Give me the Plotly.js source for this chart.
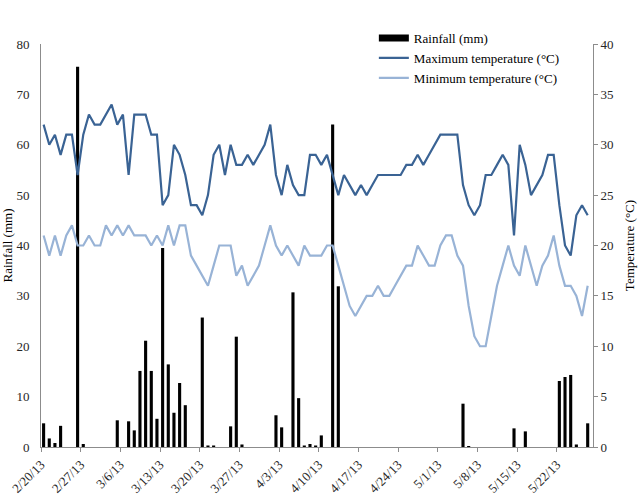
<!DOCTYPE html>
<html>
<head>
<meta charset="utf-8">
<script src="https://cdn.plot.ly/plotly-3.0.1.min.js"></script>
<style>html,body{margin:0;padding:0;background:#fff;}#chart{width:642px;height:499px;}</style>
</head>
<body>
<div id="chart"></div>
<script>
// Daily observations starting 2/20/13 (one value per day)
const startDate = [2013, 2, 20];
const rainfall = [
  4.7, 1.7, 0.8, 4.2, 0, 0, 75.5, 0.6, 0, 0,
  0, 0, 0, 5.3, 0, 5.1, 3.3, 15.1, 21.1, 15.1,
  5.6, 39.5, 16.4, 6.8, 12.7, 8.3, 0, 0, 25.7, 0.3,
  0.3, 0, 0, 4.1, 21.9, 0.5, 0, 0, 0, 0,
  0, 6.3, 3.9, 0, 30.7, 9.7, 0.3, 0.6, 0.3, 2.3,
  0, 64, 31.9, 0, 0, 0, 0, 0, 0, 0,
  0, 0, 0, 0, 0, 0, 0, 0, 0, 0,
  0, 0, 0, 0, 8.6, 0.2, 0, 0, 0, 0,
  0, 0, 0, 3.7, 0, 3.1, 0, 0, 0, 0,
  0, 13.1, 13.9, 14.3, 0.5, 0, 4.7
];
const maxTemp = [
  32, 30, 31, 29, 31, 31, 27, 31, 33, 32,
  32, 33, 34, 32, 33, 27, 33, 33, 33, 31,
  31, 24, 25, 30, 29, 27, 24, 24, 23, 25,
  29, 30, 27, 30, 28, 28, 29, 28, 29, 30,
  32, 27, 25, 28, 26, 25, 25, 29, 29, 28,
  29, 27, 25, 27, 26, 25, 26, 25, 26, 27,
  27, 27, 27, 27, 28, 28, 29, 28, 29, 30,
  31, 31, 31, 31, 26, 24, 23, 24, 27, 27,
  28, 29, 28, 21, 30, 28, 25, 26, 27, 29,
  29, 24, 20, 19, 23, 24, 23
];
const minTemp = [
  21, 19, 21, 19, 21, 22, 20, 20, 21, 20,
  20, 22, 21, 22, 21, 22, 21, 21, 21, 20,
  21, 20, 22, 20, 22, 22, 19, 18, 17, 16,
  18, 20, 20, 20, 17, 18, 16, 17, 18, 20,
  22, 20, 19, 20, 19, 18, 20, 19, 19, 19,
  20, 20, 18, 16, 14, 13, 14, 15, 15, 16,
  15, 15, 16, 17, 18, 18, 20, 19, 18, 18,
  20, 21, 21, 19, 18, 14, 11, 10, 10, 13,
  16, 18, 20, 18, 17, 20, 18, 16, 18, 19,
  21, 18, 16, 16, 15, 13, 16
];
const seriesNames = ['Rainfall (mm)', 'Maximum temperature (°C)', 'Minimum temperature (°C)'];
const axisTitles = {rain: 'Rainfall (mm)', temp: 'Temperature (°C)'};

// category dates (one per value), placed within each day on the date axis
function pad(n){ return (n < 10 ? '0' : '') + n; }
const dates = rainfall.map(function(_, i){
  const d = new Date(Date.UTC(startDate[0], startDate[1] - 1, startDate[2] + i, 11, 0));
  return d.getUTCFullYear() + '-' + pad(d.getUTCMonth() + 1) + '-' + pad(d.getUTCDate()) + ' ' + pad(d.getUTCHours()) + ':00';
});
const rangeStart = '2013-02-20 00:00';
const rangeEnd = '2013-05-28 09:30';

const FONT = '"Liberation Serif", "Times New Roman", serif';
const AXIS_GREY = '#8c8c8c';
const FS = 13;

const traces = [
  {
    type: 'bar', x: dates, y: rainfall, yaxis: 'y', name: seriesNames[0],
    marker: {color: '#000000', line: {width: 0}}, showlegend: false, hoverinfo: 'x+y'
  },
  {
    type: 'scatter', mode: 'lines', x: [null], y: [null], yaxis: 'y', name: seriesNames[0],
    line: {color: '#000000', width: 7}, hoverinfo: 'skip'
  },
  {
    type: 'scatter', mode: 'lines', x: dates, y: maxTemp, yaxis: 'y2', name: seriesNames[1],
    line: {color: '#3a6394', width: 2.2}
  },
  {
    type: 'scatter', mode: 'lines', x: dates, y: minTemp, yaxis: 'y2', name: seriesNames[2],
    line: {color: '#98b3d6', width: 2.2}
  }
];

const layout = {
  width: 642, height: 499,
  margin: {l: 41, r: 49, t: 44, b: 52, pad: 0},
  paper_bgcolor: '#ffffff', plot_bgcolor: '#ffffff',
  font: {family: FONT, size: FS, color: '#262626'},
  bargap: 0.45,
  showlegend: true,
  legend: {
    x: 0.603, y: 1.052, xanchor: 'left', yanchor: 'top',
    bgcolor: 'rgba(0,0,0,0)', borderwidth: 0,
    font: {family: FONT, size: FS, color: '#000000'},
    tracegroupgap: 0, itemwidth: 30
  },
  xaxis: {
    type: 'date', range: [rangeStart, rangeEnd],
    tick0: '2013-02-20', dtick: 7 * 86400000,
    tickformat: '%-m/%-d/%y', tickangle: -45,
    ticks: 'outside', ticklen: 4, tickcolor: AXIS_GREY,
    showline: true, linecolor: AXIS_GREY, linewidth: 1,
    showgrid: false, zeroline: false,
    tickfont: {family: FONT, size: FS, color: '#262626'}
  },
  yaxis: {
    range: [0, 80], dtick: 10, tick0: 0,
    showline: true, linecolor: AXIS_GREY, linewidth: 1,
    ticks: '', showgrid: false, zeroline: false,
    ticklabelstandoff: 8,
    tickfont: {family: FONT, size: FS, color: '#262626'},
    title: {text: axisTitles.rain, font: {family: FONT, size: FS, color: '#000000'}, standoff: 4}
  },
  yaxis2: {
    range: [0, 40], dtick: 5, tick0: 0,
    overlaying: 'y', side: 'right',
    showline: true, linecolor: AXIS_GREY, linewidth: 1,
    ticks: 'outside', ticklen: 4, tickcolor: AXIS_GREY,
    showgrid: false, zeroline: false,
    tickfont: {family: FONT, size: FS, color: '#262626'},
    title: {text: axisTitles.temp, font: {family: FONT, size: FS, color: '#000000'}, standoff: 12}
  }
};

Plotly.newPlot('chart', traces, layout, {displayModeBar: false, staticPlot: true});
</script>
</body>
</html>
